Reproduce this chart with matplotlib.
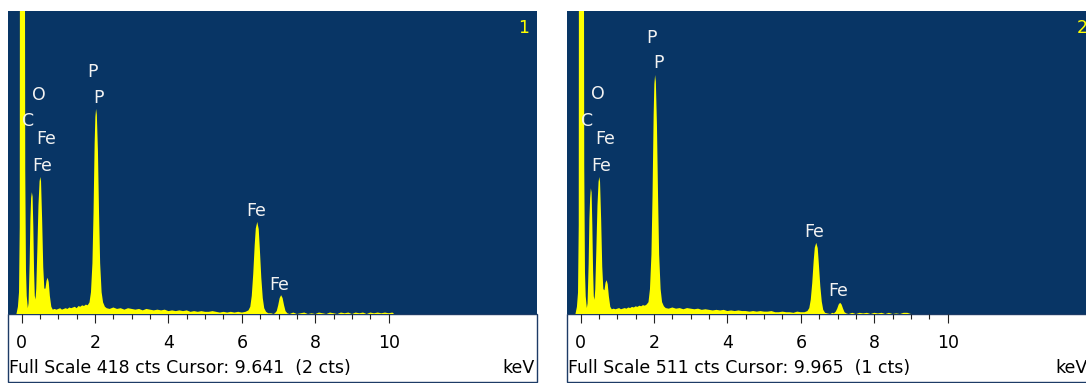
import matplotlib
matplotlib.use("Agg")
import matplotlib.pyplot as plt
from matplotlib.patches import Rectangle

plt.rcParams['font.family'] = ['DejaVu Sans']

# ---------------- data ----------------
energy_kev = [
    -0.14, -0.10, -0.07, -0.05, -0.04, 0.08, 0.10, 0.12, 0.14, 0.17,
    0.19, 0.22, 0.24, 0.26, 0.28, 0.30, 0.32, 0.34, 0.36,
    0.38, 0.40, 0.43, 0.46, 0.49, 0.51, 0.53, 0.56, 0.59, 0.62,
    0.65, 0.68, 0.71, 0.74, 0.77, 0.81, 0.85,
    0.90, 0.95, 1.00, 1.05, 1.10, 1.15, 1.20, 1.25, 1.30, 1.35,
    1.40, 1.45, 1.50, 1.55, 1.60, 1.65, 1.70, 1.75, 1.80,
    1.85, 1.89, 1.93, 1.96, 1.99, 2.01, 2.03, 2.05, 2.08, 2.11, 2.14, 2.18, 2.22, 2.27, 2.32,
    2.40, 2.50, 2.60, 2.70, 2.80, 2.90, 3.00, 3.10, 3.20, 3.30,
    3.40, 3.50, 3.60, 3.70, 3.80, 3.90, 4.00, 4.10, 4.20, 4.30,
    4.40, 4.50, 4.60, 4.70, 4.80, 4.90, 5.00, 5.10, 5.20, 5.30,
    5.40, 5.50, 5.60, 5.70, 5.80, 5.90, 6.00, 6.10, 6.14,
    6.18, 6.23, 6.27, 6.31, 6.35, 6.38, 6.42, 6.46, 6.49, 6.53, 6.57, 6.61, 6.66,
    6.72, 6.80, 6.86,
    6.90, 6.95, 6.99, 7.03, 7.07, 7.11, 7.15, 7.19, 7.24,
    7.30, 7.40, 7.50, 7.60, 7.70, 7.80, 7.90, 8.00, 8.10, 8.20,
    8.30, 8.40, 8.50, 8.60, 8.70, 8.80, 8.90, 9.00, 9.10, 9.20,
    9.30, 9.40, 9.50, 9.60, 9.70, 9.80, 9.90, 10.00, 10.10, 10.15,
]

counts_1 = [
    0, 10, 30, 120, 900, 900, 200, 60, 25, 8,
    15, 70, 130, 160, 168, 162, 120, 60, 25,
    20, 35, 90, 150, 183, 189, 183, 130, 65, 35,
    35, 46, 50, 44, 25, 10, 6,
    7, 6, 7, 8, 6, 7, 8, 7, 9, 8,
    9, 10, 8, 11, 10, 12, 11, 13, 12,
    16, 30, 70, 140, 235, 272, 283, 275, 225, 140, 70, 30, 16, 10, 8,
    7, 9, 7, 8, 6, 8, 7, 6, 7, 5,
    7, 6, 5, 6, 5, 6, 4, 5, 4, 5,
    4, 5, 3, 4, 3, 4, 3, 3, 4, 3,
    2, 3, 2, 3, 2, 3, 2, 3, 4,
    5, 10, 25, 55, 95, 118, 127, 117, 90, 50, 22, 8, 3,
    1, 1, 0,
    1, 4, 12, 22, 26, 22, 12, 4, 1,
    0, 2, 0, 1, 2, 0, 1, 0, 2, 1,
    0, 2, 1, 0, 2, 1, 2, 0, 2, 1,
    2, 0, 2, 1, 2, 1, 2, 1, 2, 0,
]

counts_2 = [
    0, 12, 36, 150, 1100, 1100, 250, 70, 30, 10,
    18, 85, 160, 195, 212, 205, 150, 75, 30,
    24, 42, 110, 183, 223, 231, 223, 160, 80, 42,
    40, 53, 57, 50, 30, 12, 8,
    9, 8, 9, 10, 8, 9, 10, 9, 11, 10,
    12, 11, 13, 12, 14, 13, 15, 14, 16,
    20, 42, 100, 200, 335, 388, 403, 392, 320, 200, 100, 42, 20, 13, 10,
    9, 11, 9, 10, 8, 10, 9, 8, 9, 7,
    8, 7, 6, 7, 6, 7, 5, 6, 5, 6,
    5, 5, 4, 5, 4, 5, 4, 4, 5, 3,
    3, 4, 3, 3, 2, 4, 3, 3, 4,
    5, 10, 24, 52, 90, 112, 120, 111, 85, 47, 21, 7, 2,
    1, 0, 2,
    1, 4, 9, 16, 19, 16, 9, 3, 1,
    0, 2, 0, 2, 1, 2, 0, 2, 1, 2,
    0, 2, 0, 1, 0, 2, 2, 0, 0, 0,
    0, 0, 0, 0, 0, 0, 0, 0, 0, 0,
]

full_scale = [418, 511]
cursor_text = ["Full Scale 418 cts Cursor: 9.641  (2 cts)",
               "Full Scale 511 cts Cursor: 9.965  (1 cts)"]
panel_number = ["1", "2"]

tick_values = [0, 2, 4, 6, 8, 10]
tick_labels = ["0", "2", "4", "6", "8", "10"]
minor_tick_values = [0.5 * i for i in range(21)]

peak_labels = ["P", "P", "O", "C", "Fe", "Fe", "Fe", "Fe"]
label_kev_1 = [1.93, 2.10, 0.46, 0.19, 0.67, 0.56, 6.38, 7.03]
label_cts_1 = [327, 291, 295, 259, 235, 197, 135, 33]
label_kev_2 = [1.94, 2.11, 0.46, 0.18, 0.67, 0.56, 6.36, 7.01]
label_cts_2 = [457, 415, 363, 317, 287, 241, 130, 30]

# ---------------- style ----------------
BLUE = '#083565'
YELLOW = '#ffff00'
LABEL_WHITE = '#f2f2f2'
BORDER = '#1d3b66'
FS = 12.5

W, H = 1086, 383
fig = plt.figure(figsize=(W / 100, H / 100), dpi=100)
fig.patch.set_facecolor('white')

panels = [
    dict(left=8, counts=counts_1, kev=label_kev_1, cts=label_cts_1, keV_right=535),
    dict(left=567, counts=counts_2, kev=label_kev_2, cts=label_cts_2, keV_right=1088),
]
top_px, base_px, width_px = 11, 314, 529

for i, p in enumerate(panels):
    left = p['left']
    ax = fig.add_axes([left / W, (H - base_px) / H, width_px / W, (base_px - top_px) / H])
    ax.set_facecolor(BLUE)
    ax.fill_between(energy_kev, 0, p['counts'], color=YELLOW, lw=0, zorder=2)
    ax.set_xlim(-0.37, 14.04)
    ax.set_ylim(0, full_scale[i])
    for s in ax.spines.values():
        s.set_visible(False)
    ax.set_yticks([])
    ax.set_xticks(tick_values)
    ax.set_xticklabels(tick_labels, fontsize=FS, color='black')
    ax.set_xticks(minor_tick_values, minor=True)
    ax.tick_params(axis='x', which='major', direction='out', length=6.2, width=0.8,
                   color='#222222', pad=8.4)
    ax.tick_params(axis='x', which='minor', direction='out', length=3.4, width=0.8,
                   color='#222222')

    for txt, xk, yc in zip(peak_labels, p['kev'], p['cts']):
        ax.text(xk, yc, txt, color=LABEL_WHITE, fontsize=FS, ha='center', va='baseline',
                zorder=3)
    ax.text(0.974, 0.927, panel_number[i], color=YELLOW, fontsize=FS, ha='center',
            va='baseline', transform=ax.transAxes)

    # white info strip with border
    rect = Rectangle((left / W, 1.0 / H), width_px / W, (H - base_px - 1) / H,
                     transform=fig.transFigure, facecolor='white', edgecolor=BORDER,
                     lw=1.0, zorder=-1)
    fig.patches.append(rect)

    fig.text((left + 0.8) / W, (H - 373) / H, cursor_text[i], fontsize=FS, color='black',
             ha='left', va='baseline')
    fig.text(p['keV_right'] / W, (H - 373) / H, "keV", fontsize=FS, color='black',
             ha='right', va='baseline')

fig.savefig("out.png", dpi=100, facecolor='white')
